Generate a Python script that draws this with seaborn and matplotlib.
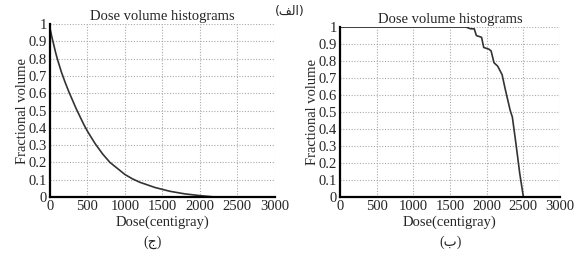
import numpy as np
import pandas as pd
import matplotlib
matplotlib.use("Agg")
import matplotlib.pyplot as plt
import seaborn as sns

# left panel (ج): fast falling curve
dose_left = [0, 25, 50, 75, 100, 150, 200, 250, 300, 350, 400, 450, 500,
             600, 700, 800, 900, 1000, 1100, 1200, 1400, 1600, 1800, 2000, 2200]
frac_left = [0.975, 0.925, 0.88, 0.835, 0.795, 0.725, 0.665, 0.61, 0.56,
             0.51, 0.465, 0.42, 0.38, 0.31, 0.25, 0.20, 0.165, 0.13, 0.105,
             0.085, 0.055, 0.033, 0.018, 0.008, 0.0]

# right panel (ب): stays at 1 then drops near 2500
dose_right = [0, 1720, 1780, 1830, 1860, 1930, 1960, 2030, 2060, 2100,
              2150, 2210, 2250, 2320, 2350, 2400, 2450, 2500]
frac_right = [1, 1, 0.99, 0.99, 0.95, 0.94, 0.88, 0.87, 0.86, 0.79,
              0.77, 0.72, 0.64, 0.51, 0.47, 0.31, 0.14, 0.0]

x_ticks = [0, 500, 1000, 1500, 2000, 2500, 3000]
y_ticks = [0, 0.1, 0.2, 0.3, 0.4, 0.5, 0.6, 0.7, 0.8, 0.9, 1]
y_labels = ["0", "0.1", "0.2", "0.3", "0.4", "0.5", "0.6", "0.7", "0.8", "0.9", "1"]

title = "Dose volume histograms"
xlabel = "Dose(centigray)"
ylabel = "Fractional volume"

sns.set_style("white")
plt.rcParams['font.family'] = ['Liberation Serif', 'DejaVu Sans']
plt.rcParams['font.size'] = 10.5

fig = plt.figure(figsize=(5.78, 2.54), dpi=100)
ax1 = fig.add_axes([0.0865, 0.2244, 0.389, 0.681])
ax2 = fig.add_axes([0.588, 0.2244, 0.381, 0.669])

df_l = pd.DataFrame({"dose": dose_left, "frac": frac_left})
df_r = pd.DataFrame({"dose": dose_right, "frac": frac_right})

for ax, df in [(ax1, df_l), (ax2, df_r)]:
    sns.lineplot(data=df, x="dose", y="frac", ax=ax, color="#333333",
                 linewidth=1.2, estimator=None, sort=False)
    ax.set_xlim(0, 3000)
    ax.set_ylim(0, 1)
    ax.set_xticks(x_ticks)
    ax.set_yticks(y_ticks)
    ax.set_yticklabels(y_labels)
    ax.grid(True, color="#aaaaaa", linestyle=(0, (1, 1.5)), linewidth=0.8)
    ax.tick_params(length=0, pad=2, labelsize=10.5)
    for s in ["top", "right"]:
        ax.spines[s].set_visible(False)
    for s in ["left", "bottom"]:
        ax.spines[s].set_color("black")
        ax.spines[s].set_linewidth(1.6)
    ax.set_xlabel(xlabel, labelpad=2)
    ax.set_ylabel(ylabel, labelpad=0)
    ax.set_title(title, fontsize=10.5, pad=3)

fig.text(0.264, 0.045, "(\u062c)", ha="center", va="center", fontsize=10)
fig.text(0.779, 0.045, "(\u0628)", ha="center", va="center", fontsize=10)
# (الف) in shaped visual order
fig.text(0.502, 0.955, "(\uFED2\uFEDF\uFE8D)", ha="center", va="center", fontsize=9,
         family=['DejaVu Sans'])

fig.savefig("out.png", dpi=100)
